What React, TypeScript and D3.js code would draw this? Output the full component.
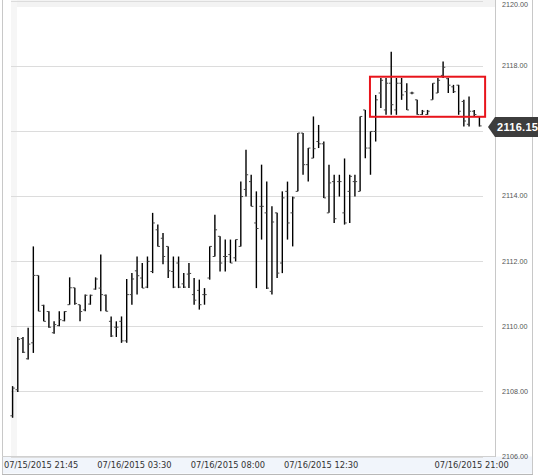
import React from "react";
import * as d3 from "d3";

// 15-minute OHLC bars
const opens = [
  2107.25, 2108.05, 2109.62, 2109.0, 2109.49, 2111.56, 2110.64, 2110.45, 2109.8, 2110.02,
  2110.17, 2110.66, 2111.18, 2110.66, 2110.5, 2110.68, 2111.14, 2111.17, 2110.95, 2110.15,
  2109.97, 2110.15, 2109.55, 2110.97, 2111.7, 2111.48, 2111.2, 2111.68, 2112.96, 2112.7,
  2112.45, 2111.68, 2111.94, 2111.3, 2111.6, 2110.97, 2111.1, 2110.97, 2111.48, 2112.14,
  2112.76, 2112.14, 2112.2, 2112.1, 2112.45, 2114.2, 2114.44, 2113.17, 2113.68, 2113.48,
  2111.07, 2113.48, 2111.94, 2114.14, 2113.48, 2114.14, 2115.93, 2114.96, 2115.16, 2115.67,
  2115.6, 2113.48, 2114.44, 2114.44, 2113.48, 2114.14, 2114.44, 2114.14, 2116.64, 2115.47,
  2115.98, 2117.16, 2116.64, 2117.46, 2116.64, 2117.46, 2117.2, 2117.16, 2116.95, 2116.5,
  2116.5, 2116.95, 2117.16, 2117.7, 2117.6, 2117.35, 2117.4, 2116.9, 2116.2, 2116.6,
  2116.44,
];
const highs = [
  2108.16, 2109.67, 2109.67, 2109.95, 2112.45, 2111.56, 2110.66, 2110.46, 2110.15, 2110.46,
  2110.46, 2111.5, 2111.18, 2110.66, 2110.97, 2110.97, 2111.5, 2112.2, 2110.97, 2110.3,
  2110.15, 2110.3, 2111.45, 2111.63, 2112.14, 2111.94, 2112.14, 2113.48, 2113.12, 2112.86,
  2112.45, 2112.14, 2112.14, 2111.63, 2111.94, 2111.48, 2111.43, 2111.17, 2112.45, 2113.42,
  2112.76, 2112.66, 2112.66, 2112.66, 2114.44, 2115.42, 2114.65, 2114.14, 2114.96, 2114.44,
  2113.68, 2113.48, 2114.14, 2114.44, 2113.98, 2115.93, 2115.93, 2115.47, 2116.44, 2116.18,
  2115.67, 2114.96, 2114.65, 2114.65, 2115.15, 2114.65, 2114.65, 2116.44, 2116.64, 2115.98,
  2117.1, 2117.62, 2117.62, 2118.43, 2117.62, 2117.62, 2117.46, 2117.2, 2116.95, 2116.64,
  2116.64, 2117.46, 2117.62, 2118.13, 2117.62, 2117.41, 2117.41, 2116.95, 2117.05, 2116.64,
  2116.44,
];
const lows = [
  2107.19, 2107.98, 2109.18, 2108.98, 2109.18, 2110.46, 2110.15, 2109.95, 2109.77, 2110.0,
  2110.15, 2110.66, 2110.66, 2110.15, 2110.46, 2110.66, 2111.12, 2110.46, 2110.46, 2109.67,
  2109.67, 2109.49, 2109.49, 2110.66, 2110.97, 2111.17, 2111.17, 2111.63, 2112.45, 2111.9,
  2111.48, 2111.17, 2111.17, 2111.17, 2111.17, 2110.66, 2110.51, 2110.66, 2111.43, 2112.14,
  2111.68, 2111.68, 2111.94, 2111.99, 2112.45, 2113.98, 2113.68, 2111.17, 2112.66, 2111.14,
  2110.97, 2111.48, 2111.63, 2112.66, 2112.45, 2114.14, 2114.65, 2114.44, 2115.16, 2115.47,
  2113.94, 2113.48, 2113.17, 2113.98, 2113.12, 2113.17, 2113.98, 2114.14, 2115.16, 2114.65,
  2115.67, 2116.7, 2116.49, 2116.49, 2116.49, 2116.95, 2116.64, 2117.12, 2116.49, 2116.49,
  2116.49, 2116.95, 2117.16, 2117.62, 2117.16, 2117.16, 2116.49, 2116.13, 2116.13, 2116.44,
  2116.13,
];
const closes = [
  2108.1, 2109.6, 2109.2, 2109.45, 2111.56, 2110.46, 2110.15, 2109.97, 2110.05, 2110.2,
  2110.45, 2111.18, 2110.7, 2110.45, 2110.95, 2110.95, 2111.45, 2110.97, 2110.46, 2109.7,
  2109.97, 2109.55, 2110.97, 2111.45, 2111.55, 2111.17, 2111.99, 2113.17, 2112.45, 2112.14,
  2111.7, 2111.2, 2111.2, 2111.2, 2111.62, 2110.8, 2110.66, 2110.97, 2112.45, 2112.96,
  2111.94, 2112.14, 2111.94, 2112.66, 2113.98, 2114.65, 2113.68, 2113.0, 2113.68, 2111.17,
  2113.2, 2111.63, 2113.94, 2113.17, 2113.94, 2115.93, 2114.96, 2115.47, 2115.45, 2115.6,
  2113.94, 2114.4, 2113.3, 2114.44, 2113.17, 2114.6, 2114.44, 2116.44, 2115.47, 2115.98,
  2116.95, 2117.55, 2117.46, 2116.8, 2117.46, 2117.1, 2116.64, 2117.16, 2116.5, 2116.6,
  2116.6, 2117.46, 2117.55, 2117.95, 2117.4, 2117.2, 2116.6, 2116.3, 2116.6, 2116.5,
  2116.15,
];

const priceTicks = [2106, 2108, 2110, 2112, 2114, 2116, 2118, 2120];
const timeTickIndex = [5, 23, 41, 59, 88];
const timeTickLabels = [
  "07/15/2015 21:45",
  "07/16/2015 03:30",
  "07/16/2015 08:00",
  "07/16/2015 12:30",
  "07/16/2015 21:00",
];
const lastPrice = 2116.15;
// highlighted consolidation zone: bar index range and price range
const zoneBars = [68.9, 91.1];
const zonePrices = [2116.43, 2117.66];

const W = 538;
const H = 476;
const plotLeft = 10;
const plotRight = 482;
const axisX = 495;
const plotBottom = 456.5;

export default function App() {
  const idx = opens.map((_, i) => i);
  const x = d3.scaleBand<number>().domain(idx).range([plotLeft, plotRight]).padding(0);
  const bw = x.bandwidth();
  const y = d3.scaleLinear().domain([2106, 2120]).range([plotBottom, 0.5]);
  const xc = (i: number) => (x(i) as number) + bw / 2;
  const xi = d3.scaleLinear().domain([0, opens.length - 1]).range([xc(0), xc(opens.length - 1)]);

  const ly = y(lastPrice) + 1;
  // the badge hides any axis label it sits on
  const axisLabels = priceTicks.filter((p) => Math.abs(y(p) - ly) > 12);

  return (
    <svg
      width={W}
      height={H}
      style={{ position: "absolute", left: 0, top: 0, background: "#fff" }}
      fontFamily="'Liberation Sans', Arial, sans-serif"
    >
      {/* frame */}
      <rect x={11} y={0} width={axisX - 11} height={7} fill="#f3f3f3" />
      <rect x={11} y={0} width={6} height={plotBottom} fill="#f6f6f6" />
      <rect x={2} y={plotBottom} width={531} height={17} fill="#f1f5fb" />
      <line x1={2.5} x2={2.5} y1={0} y2={474} stroke="#c8c8c8" />
      <line x1={532.5} x2={532.5} y1={0} y2={474} stroke="#c8c8c8" />
      <line x1={2} x2={533} y1={474.5} y2={474.5} stroke="#b8b8b8" />
      <line x1={2} x2={axisX} y1={456.5} y2={456.5} stroke="#d0d0d0" />
      <line x1={axisX + 0.5} x2={axisX + 0.5} y1={0} y2={457} stroke="#c8c8c8" />

      {/* grid */}
      {priceTicks.map((p) => (
        <line key={p} x1={11} x2={483} y1={Math.round(y(p)) + 0.5} y2={Math.round(y(p)) + 0.5} stroke="#dcdcdc" />
      ))}

      {/* price axis labels */}
      {axisLabels.map((p) => (
        <text key={p} x={502} y={Math.max(y(p), 4)} dy="0.35em" fontSize={7.2} fill="#555">
          {p.toFixed(2)}
        </text>
      ))}

      {/* time labels */}
      {timeTickIndex.map((i, k) => (
        <text
          key={i}
          x={(x(i) as number) + bw}
          y={468}
          textAnchor="middle"
          fontSize={8.3}
          fontFamily="'DejaVu Sans', Verdana, sans-serif"
          fill="#333"
        >
          {timeTickLabels[k]}
        </text>
      ))}

      {/* OHLC bars */}
      {idx.map((i) => {
        const cx = xc(i);
        return (
          <g key={i}>
            <line x1={cx} x2={cx} y1={y(highs[i])} y2={y(lows[i])} stroke="#000" strokeWidth={1.4} />
            <line x1={cx - 2.2} x2={cx} y1={y(opens[i])} y2={y(opens[i])} stroke="#444" strokeWidth={1} />
            <line x1={cx} x2={cx + 2.2} y1={y(closes[i])} y2={y(closes[i])} stroke="#444" strokeWidth={1} />
          </g>
        );
      })}

      {/* highlighted zone */}
      <rect
        x={xi(zoneBars[0])}
        y={y(zonePrices[1])}
        width={xi(zoneBars[1]) - xi(zoneBars[0])}
        height={y(zonePrices[0]) - y(zonePrices[1])}
        fill="none"
        stroke="#e8141b"
        strokeWidth={2}
      />

      {/* last price badge */}
      <path
        d={`M488,${ly} L495,${ly - 10} L540,${ly - 10} L540,${ly + 10} L495,${ly + 10} Z`}
        fill="#3d3d3d"
      />
      <text x={497} y={ly} dy="0.36em" fontSize={11} fontWeight="bold" fill="#fff" letterSpacing={0.3}>
        {lastPrice.toFixed(2)}
      </text>
    </svg>
  );
}
